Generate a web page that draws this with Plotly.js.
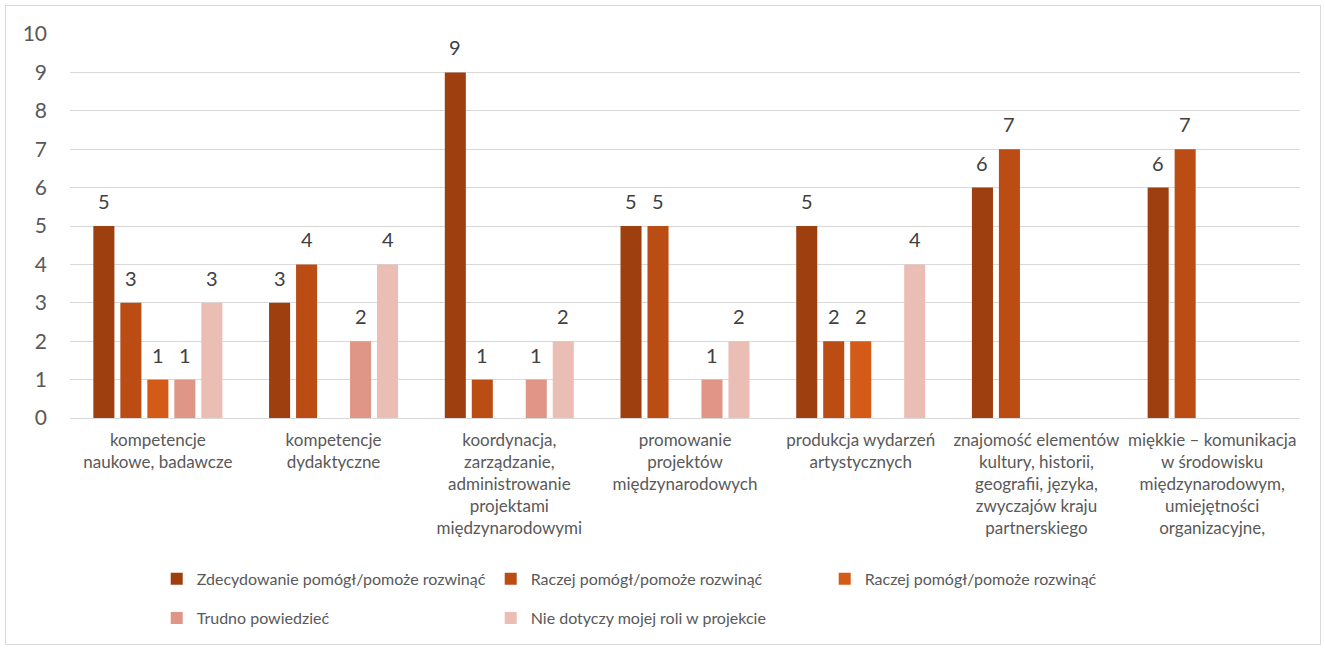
<!DOCTYPE html>
<html><head><meta charset="utf-8">
<script src="https://cdn.plot.ly/plotly-3.0.1.min.js"></script>
<style>
body{margin:0;background:#fff;}
#wrap{position:relative;width:1325px;height:648px;}
#chart{position:absolute;left:0;top:0;width:1325px;height:648px;}
#frame{position:absolute;left:5px;top:5px;width:1314px;height:638px;border:1px solid #d9d9d9;pointer-events:none;}
</style></head>
<body><div id="wrap"><div id="chart"></div><div id="frame"></div></div>
<script>
const categories = [
  "kompetencje<br>naukowe, badawcze",
  "kompetencje<br>dydaktyczne",
  "koordynacja,<br>zarządzanie,<br>administrowanie<br>projektami<br>międzynarodowymi",
  "promowanie<br>projektów<br>międzynarodowych",
  "produkcja wydarzeń<br>artystycznych",
  "znajomość elementów<br>kultury, historii,<br>geografii, języka,<br>zwyczajów kraju<br>partnerskiego",
  "miękkie – komunikacja<br>w środowisku<br>międzynarodowym,<br>umiejętności<br>organizacyjne,"
];
const seriesNames = [
  "Zdecydowanie pomógł/pomoże rozwinąć",
  "Raczej pomógł/pomoże rozwinąć",
  "Raczej pomógł/pomoże rozwinąć",
  "Trudno powiedzieć",
  "Nie dotyczy mojej roli w projekcie"
];
const zdecydowanie = [5, 3, 9, 5, 5, 6, 6];
const raczej1      = [3, 4, 1, 5, 2, 7, 7];
const raczej2      = [1, null, null, null, 2, null, null];
const trudno       = [1, 2, 1, 1, null, null, null];
const nieDotyczy   = [3, 4, 2, 2, 4, null, null];
const seriesValues = [zdecydowanie, raczej1, raczej2, trudno, nieDotyczy];
const colors = ["#9E3F10", "#BA4C14", "#D45A18", "#E09686", "#EABEB4"];
const legendIds = ["legend", "legend", "legend", "legend2", "legend2"];

const BARGAP = 0.232;
const nSeries = seriesValues.length;
const slot = (1 - BARGAP) / nSeries;

const traces = seriesValues.map((vals, i) => ({
  type: "bar",
  name: seriesNames[i],
  x: categories,
  y: vals,
  marker: {color: colors[i]},
  legend: legendIds[i],
  hoverinfo: "skip"
}));

// data labels placed via the axis scales (category index + group offset)
const annotations = [];
seriesValues.forEach((vals, i) => {
  vals.forEach((v, j) => {
    if (v === null) return;
    annotations.push({
      x: j + (i - (nSeries - 1) / 2) * slot,
      y: v,
      xref: "x", yref: "y",
      text: String(v),
      showarrow: false,
      yanchor: "middle",
      yshift: 25,
      font: {family: "Lato, sans-serif", size: 20, color: "#404040"}
    });
  });
});

const legendCommon = {
  orientation: "h",
  xanchor: "left",
  yanchor: "middle",
  font: {family: "Lato, sans-serif", size: 16, color: "#595959"},
  entrywidth: 289,
  entrywidthmode: "pixels",
  bgcolor: "rgba(0,0,0,0)",
  itemclick: false
};

const layout = {
  width: 1325, height: 648,
  margin: {l: 70, r: 25, t: 34, b: 230},
  paper_bgcolor: "rgba(0,0,0,0)",
  plot_bgcolor: "#fff",
  barmode: "group",
  bargap: BARGAP,
  bargroupgap: 0.22,
  font: {family: "Lato, sans-serif", color: "#595959"},
  xaxis: {
    tickfont: {family: "Lato, sans-serif", size: 17, color: "#595959"},
    showgrid: false, showline: false, zeroline: false,
    ticks: "", ticklabelstandoff: 10, automargin: false
  },
  yaxis: {
    range: [0, 10], dtick: 1, tick0: 0,
    gridcolor: "#d9d9d9", gridwidth: 1,
    zeroline: true, zerolinecolor: "#d9d9d9", zerolinewidth: 1,
    tickfont: {family: "Lato, sans-serif", size: 21, color: "#595959"},
    ticks: "", ticklabelstandoff: 22, automargin: false
  },
  annotations: annotations,
  legend: Object.assign({}, legendCommon, {x: 0.0705, y: -0.419}),
  legend2: Object.assign({}, legendCommon, {x: 0.0705, y: -0.521}),
  showlegend: true
};

Plotly.newPlot("chart", traces, layout, {displayModeBar: false, staticPlot: true});
</script></body></html>
